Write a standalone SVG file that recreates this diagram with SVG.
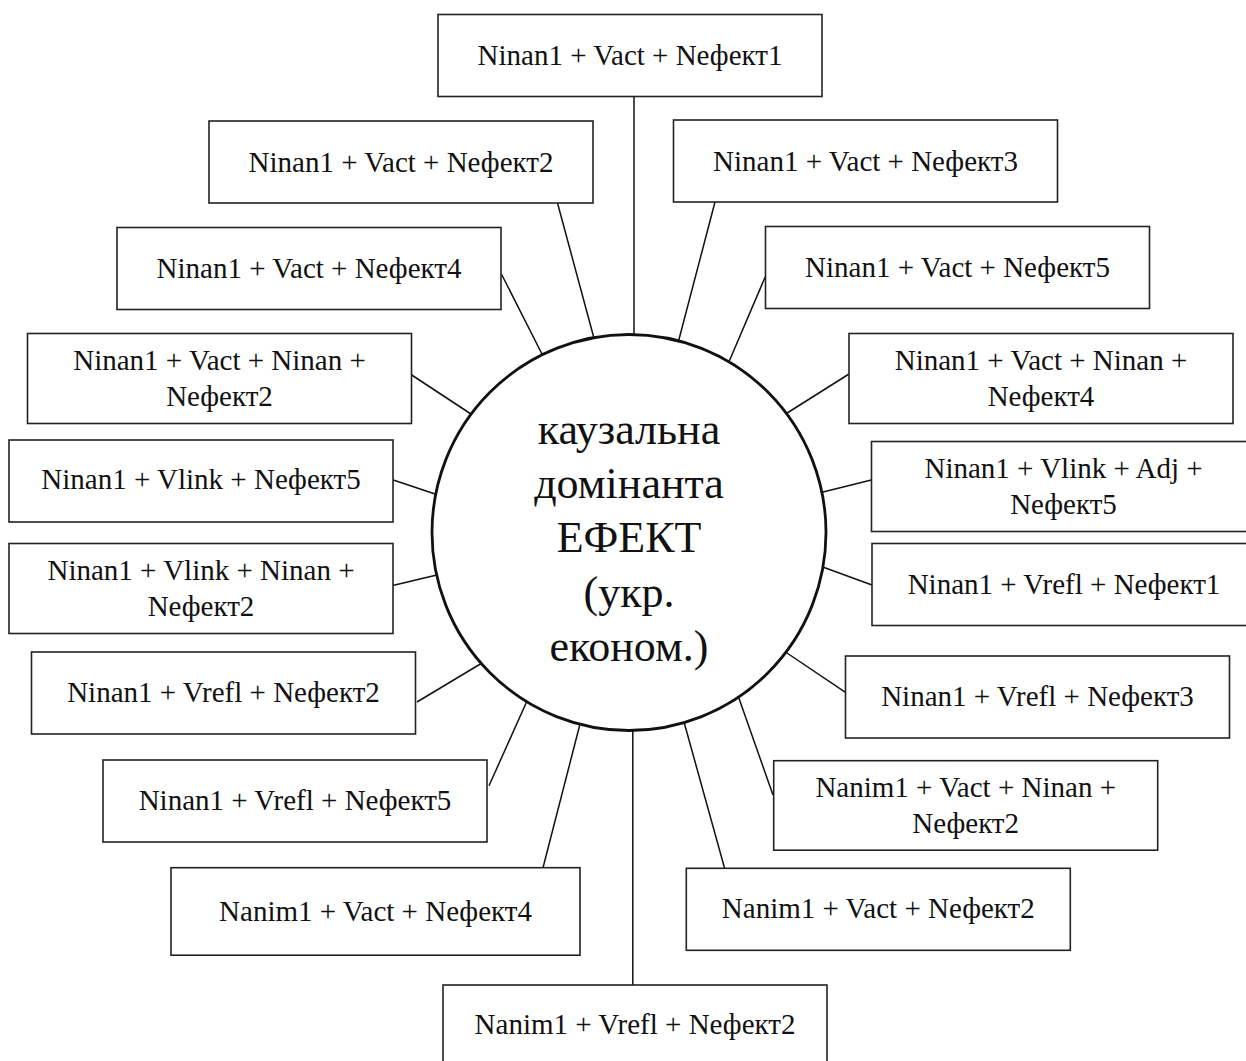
<svg xmlns="http://www.w3.org/2000/svg" width="1246" height="1061" viewBox="0 0 1246 1061">
<style>
.box{fill:#fff;stroke:#222;stroke-width:1.6}
.lbl{font-family:"Liberation Serif","Times New Roman",serif;font-size:29px;fill:#111;text-anchor:middle}
.big{font-family:"Liberation Serif","Times New Roman",serif;font-size:44px;fill:#111;text-anchor:middle}
.conn line{stroke:#111;stroke-width:1.5}
.hub{fill:#fff;stroke:#111;stroke-width:2.8}
</style>
<rect width="1246" height="1061" fill="#fff"/>
<g id="connectors" class="conn">
<line x1="634" y1="96.7" x2="634" y2="340"/>
<line x1="557.5" y1="203" x2="595" y2="342"/>
<line x1="715" y1="202" x2="677.5" y2="345"/>
<line x1="501.4" y1="274" x2="544" y2="358"/>
<line x1="765.3" y1="276.7" x2="728" y2="364"/>
<line x1="411.7" y1="375" x2="474" y2="416"/>
<line x1="849" y1="374" x2="784" y2="415"/>
<line x1="393.3" y1="480" x2="441" y2="496"/>
<line x1="871.3" y1="480" x2="819" y2="493"/>
<line x1="391.7" y1="585.7" x2="441" y2="574"/>
<line x1="872" y1="585" x2="820" y2="566"/>
<line x1="417" y1="702" x2="482" y2="663"/>
<line x1="845.5" y1="692.3" x2="784" y2="651"/>
<line x1="489" y1="785.7" x2="527" y2="701"/>
<line x1="773" y1="795" x2="738.5" y2="697"/>
<line x1="543" y1="867.7" x2="580" y2="724"/>
<line x1="724.6" y1="868.3" x2="684" y2="722"/>
<line x1="632.8" y1="725" x2="632.8" y2="985"/>
</g>
<g id="hub">
<ellipse class="hub" cx="629" cy="532.5" rx="197" ry="198"/>
<text class="big" x="629" y="444">каузальна</text>
<text class="big" x="629" y="498">домінанта</text>
<text class="big" x="629" y="552">ЕФЕКТ</text>
<text class="big" x="629" y="607">(укр.</text>
<text class="big" x="629" y="661">економ.)</text>
</g>
<g id="n1"><rect class="box" x="438" y="14.5" width="384" height="82"/><text class="lbl" x="630" y="65">Ninan1 + Vact + Nефект1</text></g>
<g id="n2"><rect class="box" x="209" y="121" width="384" height="82"/><text class="lbl" x="401" y="172">Ninan1 + Vact + Nефект2</text></g>
<g id="n3"><rect class="box" x="673.5" y="120" width="384" height="82"/><text class="lbl" x="865.5" y="171">Ninan1 + Vact + Nефект3</text></g>
<g id="n4"><rect class="box" x="117" y="227.5" width="384" height="82"/><text class="lbl" x="309" y="278">Ninan1 + Vact + Nефект4</text></g>
<g id="n5"><rect class="box" x="765.5" y="226.5" width="384" height="82"/><text class="lbl" x="957.5" y="277">Ninan1 + Vact + Nефект5</text></g>
<g id="n6"><rect class="box" x="27.5" y="333.5" width="384" height="90"/><text class="lbl" x="219.5" y="370">Ninan1 + Vact + Ninan +</text><text class="lbl" x="219.5" y="406">Nефект2</text></g>
<g id="n7"><rect class="box" x="849" y="333.5" width="384" height="90"/><text class="lbl" x="1041" y="370">Ninan1 + Vact + Ninan +</text><text class="lbl" x="1041" y="406">Nефект4</text></g>
<g id="n8"><rect class="box" x="9" y="440" width="384" height="82"/><text class="lbl" x="201" y="489">Ninan1 + Vlink + Nефект5</text></g>
<g id="n9"><rect class="box" x="871.5" y="441.5" width="384" height="90"/><text class="lbl" x="1063.5" y="477.5">Ninan1 + Vlink + Adj +</text><text class="lbl" x="1063.5" y="513.5">Nефект5</text></g>
<g id="n10"><rect class="box" x="9" y="543.5" width="384" height="90"/><text class="lbl" x="201" y="579.5">Ninan1 + Vlink + Ninan +</text><text class="lbl" x="201" y="615.5">Nефект2</text></g>
<g id="n11"><rect class="box" x="872" y="543.5" width="384" height="82"/><text class="lbl" x="1064" y="594">Ninan1 + Vrefl + Nефект1</text></g>
<g id="n12"><rect class="box" x="31.5" y="652" width="384" height="82"/><text class="lbl" x="223.5" y="702">Ninan1 + Vrefl + Nефект2</text></g>
<g id="n13"><rect class="box" x="845.5" y="656" width="384" height="82"/><text class="lbl" x="1037.5" y="706">Ninan1 + Vrefl + Nефект3</text></g>
<g id="n14"><rect class="box" x="103" y="760" width="384" height="82"/><text class="lbl" x="295" y="810">Ninan1 + Vrefl + Nефект5</text></g>
<g id="n15"><rect class="box" x="773.7" y="760.7" width="384" height="89.5"/><text class="lbl" x="965.7" y="796.7">Nanim1 + Vact + Ninan +</text><text class="lbl" x="965.7" y="832.7">Nефект2</text></g>
<g id="n16"><rect class="box" x="171" y="867.7" width="409" height="87.5"/><text class="lbl" x="375.5" y="921">Nanim1 + Vact + Nефект4</text></g>
<g id="n17"><rect class="box" x="686.3" y="868.3" width="384" height="82"/><text class="lbl" x="878.3" y="918">Nanim1 + Vact + Nефект2</text></g>
<g id="n18"><rect class="box" x="443" y="985" width="384" height="82"/><text class="lbl" x="635" y="1034">Nanim1 + Vrefl + Nефект2</text></g>
</svg>
